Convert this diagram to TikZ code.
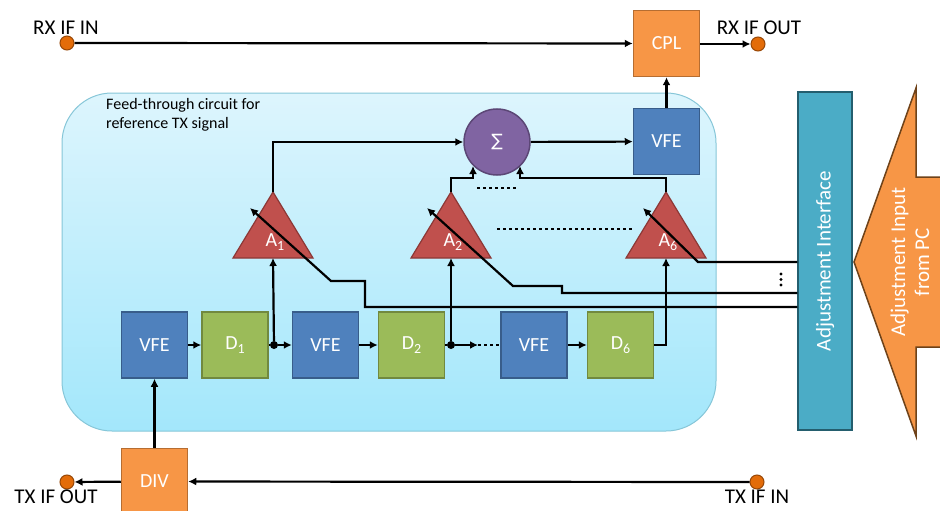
\documentclass[tikz,border=0pt]{standalone}
\usepackage{fontspec}
\setmainfont{Carlito}
\newfontfamily\symfont{DejaVu Sans}
\usetikzlibrary{arrows.meta,calc}
\definecolor{orF}{HTML}{F79646}\definecolor{orD}{HTML}{B66D31}
\definecolor{tmF}{HTML}{E36C09}\definecolor{tmD}{HTML}{984807}
\definecolor{blF}{HTML}{4F81BD}\definecolor{blD}{HTML}{385D8A}
\definecolor{grF}{HTML}{9BBB59}\definecolor{grD}{HTML}{71893F}
\definecolor{rdF}{HTML}{C0504D}\definecolor{rdD}{HTML}{8C3836}
\definecolor{puF}{HTML}{8064A2}\definecolor{puD}{HTML}{5C4776}
\definecolor{tlF}{HTML}{4BACC6}\definecolor{tlD}{HTML}{245E6E}
\definecolor{bgT}{HTML}{DDF5FD}\definecolor{bgB}{HTML}{A3E7FB}\definecolor{bgD}{HTML}{86C6D8}
\definecolor{brD}{HTML}{6E4219}
\newcommand\lowidx[1]{\raisebox{-4pt}{\fontsize{14}{14}\selectfont #1}}
\begin{document}
\begin{tikzpicture}[x=1pt,y=-1pt,
  lbl/.style={font=\fontsize{21}{24}\selectfont, inner sep=0pt},
  wlbl/.style={lbl, text=white},
  box/.style={draw, line width=1.5pt, minimum width=66pt, minimum height=66pt, inner sep=0pt, font=\fontsize{20}{22}\selectfont, text=white},
  vfe/.style={box, fill=blF, draw=blD},
  dly/.style={box, fill=grF, draw=grD},
  org/.style={box, fill=orF, draw=orD},
  term/.style={circle, fill=tmF, draw=tmD, line width=1pt, minimum size=14pt, inner sep=0pt},
  jdot/.style={circle, fill=black, minimum size=8pt, inner sep=0pt},
  tri/.style={fill=rdF, draw=rdD, line width=1.2pt},
  wire/.style={line width=2.2pt},
  arr/.style={wire, -{Latex[length=8pt,width=8pt]}},
  dots/.style={line width=2.6pt, dash pattern=on 3pt off 3pt},
  ]
\useasboundingbox (0,0) rectangle (940,511);
% background panel
\draw[rounded corners=50pt, top color=bgT, bottom color=bgB, draw=bgD, line width=1pt]
  (62,93) rectangle (716,431);
\node[anchor=north west, align=left, inner sep=0pt, font=\fontsize{16}{19}\selectfont] (ftlbl) at (106,98)
  {Feed-through circuit for\\reference TX signal};

% top line
\node[term] (rxin) at (67,43) {};
\node[lbl] (rxinl) at (66,28) {RX IF IN};
\node[org] (cpl) at (666.5,43.5) {CPL};
\node[term] (rxout) at (758,44) {};
\node[lbl] (rxoutl) at (759,28) {RX IF OUT};
\draw[arr] (rxin) -- (cpl);
\draw[arr] (cpl.east |- rxout) -- (rxout);

% VFE and sum
\node[vfe] (vfeo) at (666.5,141.5) {VFE};
\draw[arr] (vfeo) -- (cpl);
\node[circle, fill=puF, draw=puD, line width=1.5pt, minimum size=66pt, inner sep=0pt, text=white,
  font=\symfont\fontsize{17}{20}\selectfont] (sum) at (497,142) {∑};
\draw[arr] (sum) -- (vfeo);

% triangles
\foreach \n/\x in {1/273,2/451,6/666}{
  \draw[tri] (\x,192) -- (\x+40,258) -- (\x-40,258) -- cycle;
  \coordinate (A\n top) at (\x,192);
  \coordinate (A\n bot) at (\x,258);
  \node[wlbl, font=\fontsize{20}{22}\selectfont] (A\n lbl) at (\x+2,242) {A\lowidx{\n}};
}

% triangle outputs to sum
\draw[arr] (A1top) -- (273,142) -- (sum.west);
\draw[arr] (A2top) -- (451,178) -- (473,178) -- (473,166);
\draw[arr] (A6top) -- (666,178) -- (520,178) -- (520,166);
\draw[dots] (477,188) -- (516,188);
\draw[dots] (497,229) -- (634,229);

% chain
\node[vfe] (v1) at (154.5,345) {VFE};
\node[dly] (d1) at (235,345) {D\lowidx{1}};
\node[vfe] (v2) at (325.5,345) {VFE};
\node[dly] (d2) at (411.5,345) {D\lowidx{2}};
\node[vfe] (v3) at (534,345) {VFE};
\node[dly] (d6) at (620.5,345) {D\lowidx{6}};
\node[jdot] (j1) at (274,345) {};
\node[jdot] (j2) at (451,345) {};
\coordinate (c2) at (478,345);
\draw[arr] (v1) -- (d1);
\draw[wire] (d1) -- (j1);
\draw[arr] (j1) -- (v2);
\draw[arr] (v2) -- (d2);
\draw[wire] (d2) -- (j2);
\draw[arr] (j2) -- (c2);
\draw[dots] (c2) -- (v3.west);
\draw[arr] (v3) -- (d6);
\draw[arr] (j1) -- (A1bot);
\draw[arr] (j2) -- (A2bot);
\draw[arr] (d6.east) -- (666,345) -- (A6bot);

% bottom line
\node[org] (div) at (154.5,481.5) {DIV};
\node[term] (txin) at (757,482) {};
\node[lbl] (txinl) at (757,497) {TX IF IN};
\node[term] (txout) at (67,482) {};
\node[lbl] (txoutl) at (56,497) {TX IF OUT};
\draw[arr] (txin) -- (div);
\draw[arr] (div) -- (txout);
\draw[arr] (div) -- (v1);

% adjustment interface
\node[draw=tlD, fill=tlF, line width=1.5pt, minimum width=54pt, minimum height=338pt, inner sep=0pt] (aif) at (825,261) {};
\node[wlbl, rotate=90, font=\fontsize{21}{24}\selectfont] (aifl) at (aif.center) {Adjustment Interface};

% big input arrow
\draw[fill=orF, draw=brD, line width=1.5pt]
  (946,177) -- (916,177) -- (916,88) -- (854,262) -- (916,436) -- (916,347) -- (946,347);
\coordinate (tip) at (854,262);
\node[wlbl, rotate=90, align=center, font=\fontsize{21}{24}\selectfont] (inl) at (910,262) {Adjustment Input\\from PC};

% adjustment lines
\coordinate (k1) at (365,307);
\coordinate (k2) at (562,293);
\coordinate (k6) at (698,262);
\draw[arr] (k1 -| aif.west) -- (k1) -- (365,281) -- (331,281) -- (250,208);
\draw[arr] (k2 -| aif.west) -- (k2) -- (562,286) -- (513,286) -- (427,208);
\draw[arr] (k6 -| aif.west) -- (k6) -- (643,208);
\foreach \y [count=\i] in {274,279.5,285}{\fill (781,\y) circle (1.6pt);}
\end{tikzpicture}
\end{document}
